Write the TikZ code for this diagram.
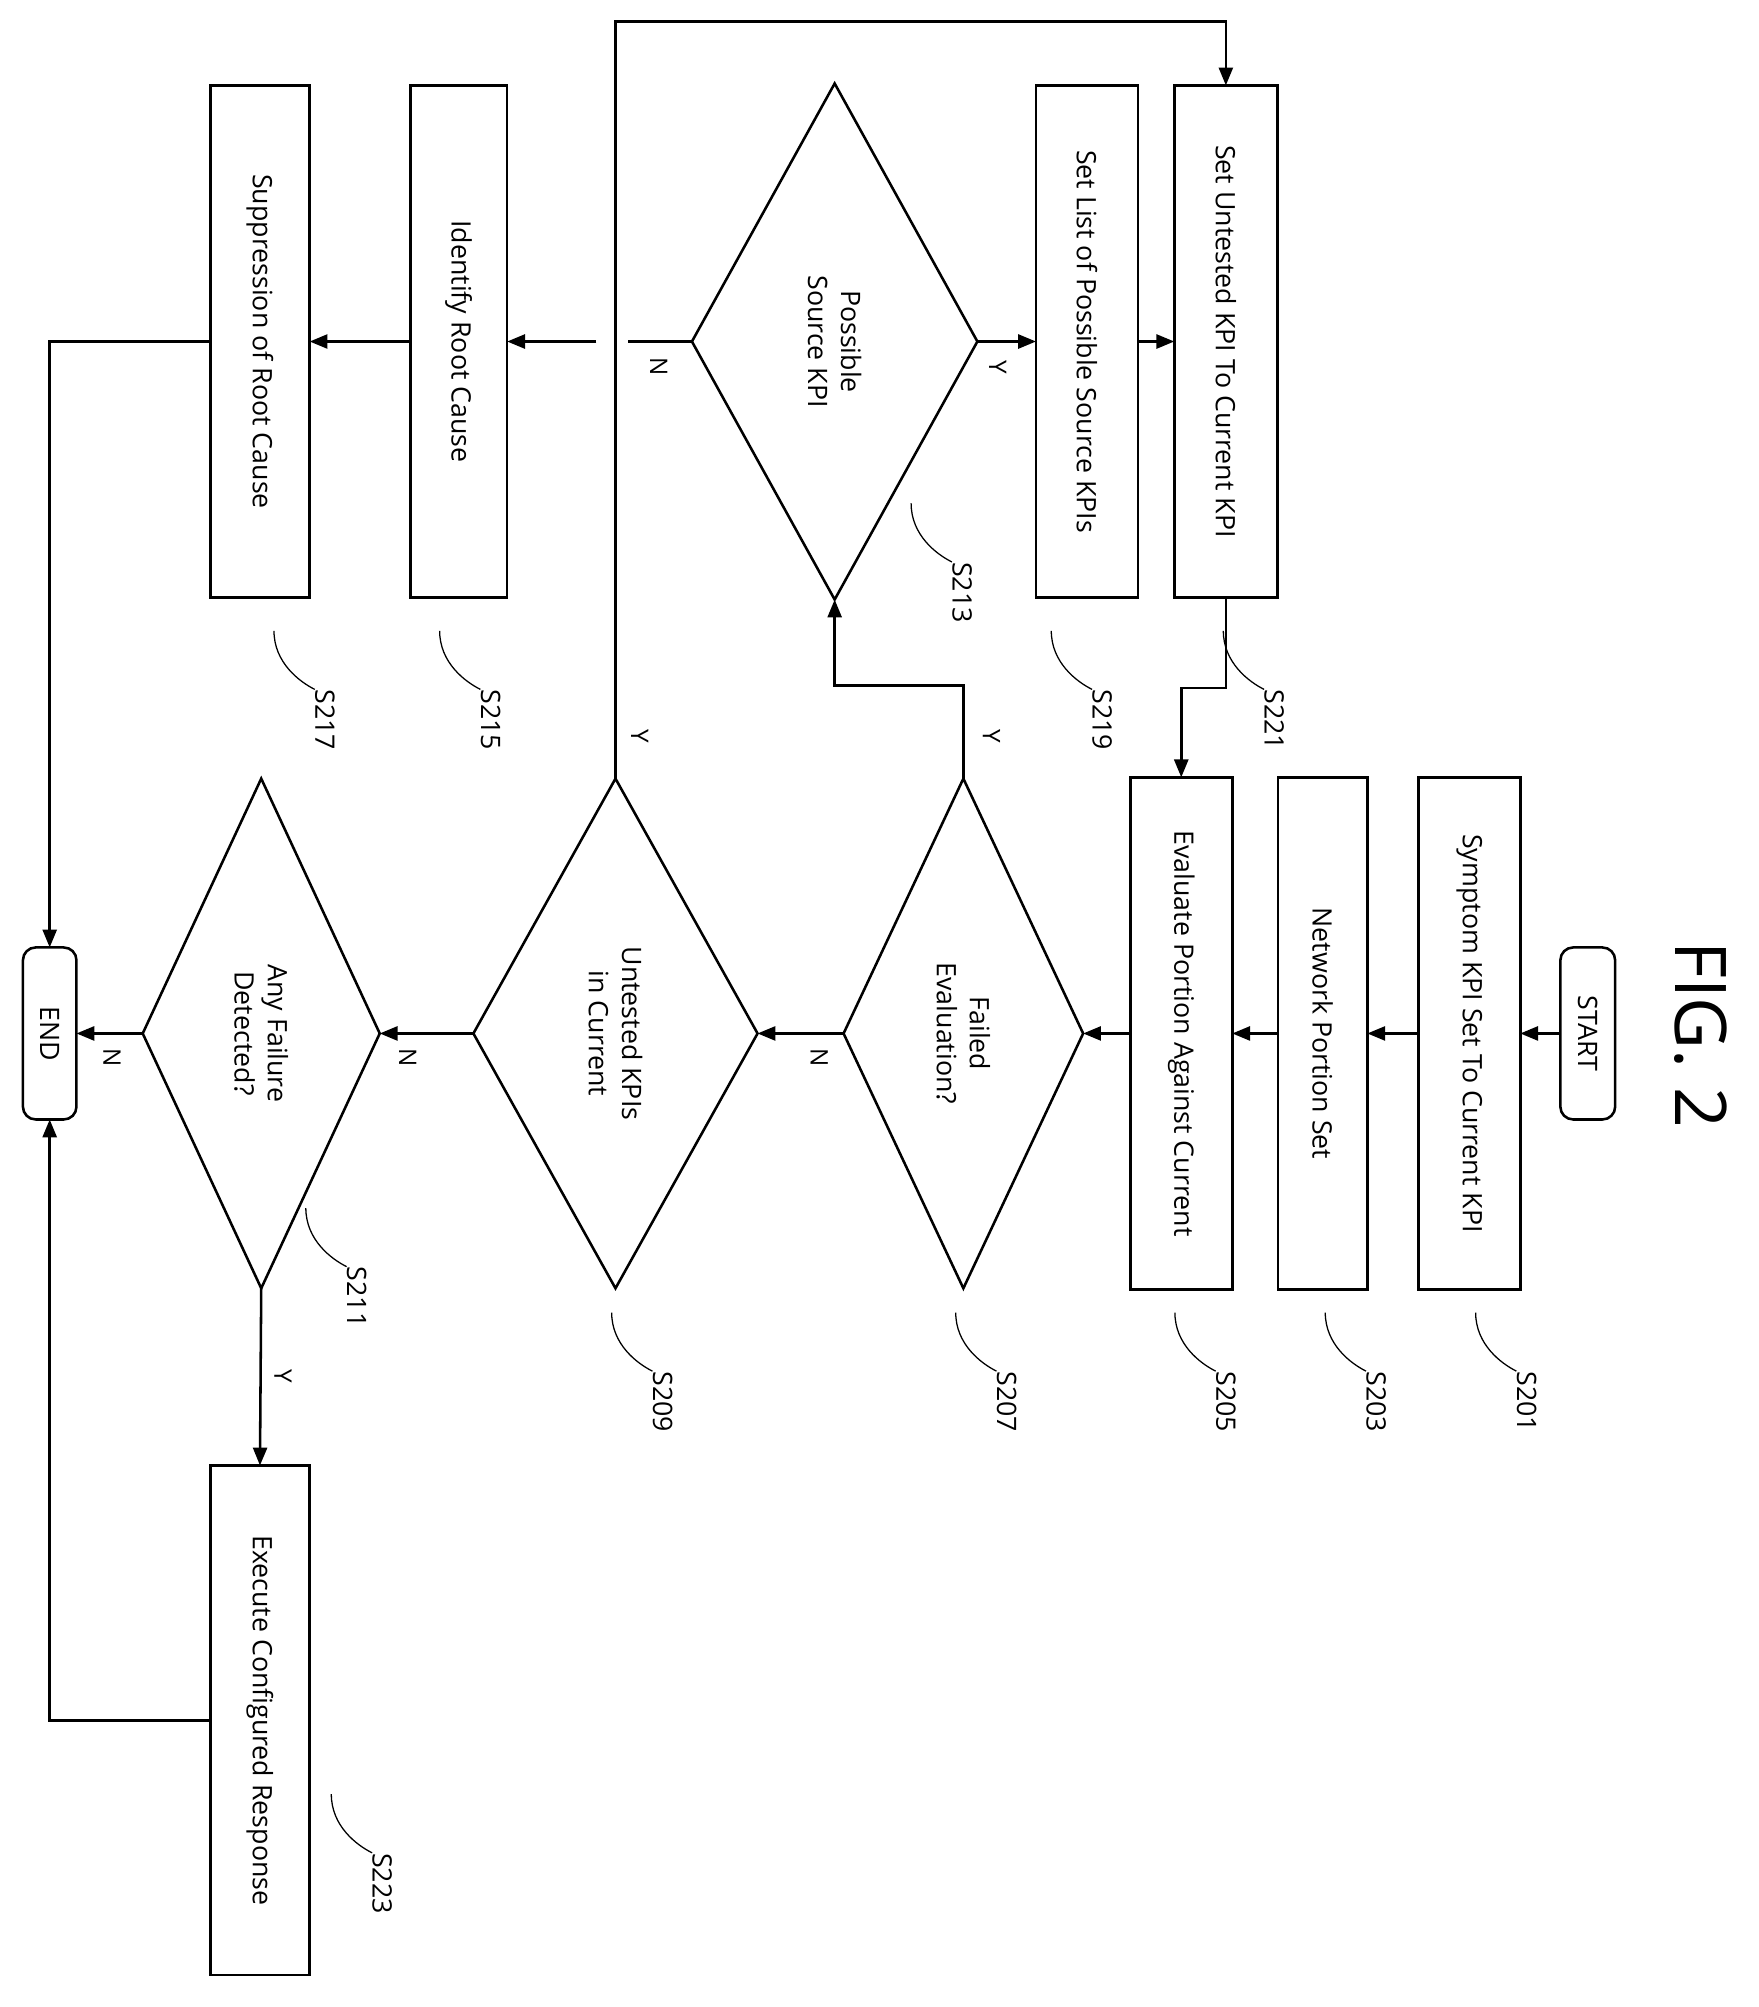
\documentclass[tikz,border=0pt]{standalone}
\usepackage{fontspec}
\setmainfont{Open Sans}
\usetikzlibrary{shapes.geometric,arrows.meta}
\begin{document}
\begin{tikzpicture}[x=0.5pt,y=-0.5pt,
  every node/.style={font=\fontsize{10.5}{13}\selectfont},
  box/.style={draw,line width=1pt,inner sep=0,outer sep=0,minimum height=#1},
  box/.default=201pt,
  dia/.style={draw,diamond,line width=1pt,inner sep=0,outer sep=0},
  rot/.style={rotate=-90,align=center},
  arr/.style={line width=1pt,-{Triangle[length=7pt,width=5.5pt]}},
  ln/.style={line width=1pt},
  lead/.style={line width=0.5pt},
  yn/.style={rotate=-90,font=\fontsize{9.5}{11}\selectfont}]
\useasboundingbox (0,0) rectangle (1380,1575);
\node[box=67.5pt,minimum width=21.5pt,rounded corners=5pt,label={[rot]center:START}] (start) at (1246,811) {};
\node[box,minimum width=40pt,label={[rot]center:Symptom KPI Set To Current KPI}] (s201) at (1153,811) {};
\node[box,minimum width=35pt,label={[rot]center:Network Portion Set}] (s203) at (1038,811) {};
\node[box,minimum width=40pt,label={[rot]center:Evaluate Portion Against Current}] (s205) at (927,811) {};
\node[dia,minimum width=94pt,minimum height=200pt,label={[rot]center:Failed\\Evaluation?}] (s207) at (756,811) {};
\node[dia,minimum width=111.5pt,minimum height=200pt,label={[rot]center:Untested KPIs\\in Current}] (s209) at (483,811) {};
\node[dia,minimum width=93pt,minimum height=200pt,label={[rot]center:Any Failure\\Detected?}] (s211) at (205,811) {};
\node[box=67.5pt,minimum width=21pt,rounded corners=5pt,label={[rot]center:END}] (end) at (39,811) {};
\node[dia,minimum width=112pt,minimum height=202.5pt,label={[rot]center:Possible\\Source KPI}] (s213) at (655,268) {};
\node[box,minimum width=40pt,label={[rot]center:Set List of Possible Source KPIs}] (s219) at (853,268) {};
\node[box,minimum width=40.5pt,label={[rot]center:Set Untested KPI To Current KPI}] (s221) at (962,268) {};
\node[box,minimum width=38pt,label={[rot]center:Identify Root Cause}] (s215) at (360,268) {};
\node[box,minimum width=39pt,label={[rot]center:Suppression of Root Cause}] (s217) at (204,268) {};
\node[box=200pt,minimum width=39pt,label={[rot]center:Execute Configured Response}] (s223) at (204,1350) {};
\node[rotate=-90,font=\fontsize{28}{30}\selectfont] (fig) at (1335,812) {FIG. 2};
% connectors
\draw[arr] (start.west) -- (s201.east);
\draw[arr] (s201.west) -- (s203.east);
\draw[arr] (s203.west) -- (s205.east);
\draw[arr] (s205.west) -- (s207.east);
\draw[arr] (s207.west) -- (s209.east);
\draw[arr] (s209.west) -- (s211.east);
\draw[arr] (s211.west) -- (end.east);
\draw[arr] (s211.south) -- (s223.north);
\draw[arr] (s223.west) -| (end.south);
\draw[arr] (s207.north) -- (s207.north |- 0,538) -| (s213.south);
\draw[arr] (s213.east) -- (s219.west);
\draw[arr] (s219.east) -- (s221.west);
\draw[arr] (s221.south) -- (s221.south |- 0,540) -| (s205.north);
\draw[arr] (s209.north) -- (s209.north |- 0,17) -| (s221.north);
\coordinate (gapA) at (493,268);
\coordinate (gapB) at (468,268);
\draw[ln] (s213.west) -- (gapA);
\draw[arr] (gapB) -- (s215.east);
\draw[arr] (s215.west) -- (s217.east);
\draw[arr] (s217.west) -| (end.north);
% Y/N labels
\node[yn] at (643,830) {N};
\node[yn] at (320,830) {N};
\node[yn] at (88,830) {N};
\node[yn] at (222,1080) {Y};
\node[yn] at (778,578) {Y};
\node[yn] at (502,578) {Y};
\node[yn] at (783,288) {Y};
\node[yn] at (517,288) {N};
% step labels
\foreach \t/\x/\y in {S201/1198/1100,S203/1080/1100,S205/962/1100,S207/790/1100,S209/520/1100,S211/280/1018,S213/755/465,S215/385/565,S217/255/565,S219/865/565,S221/1000/565,S223/300/1478}{
  \node[rot] (l\t) at (\x,\y) {\t};
  \draw[lead] (\x-40,\y-70) .. controls (\x-40,\y-45) and (\x-20,\y-30) .. (\x-8,\y-24);
}
\end{tikzpicture}
\end{document}
